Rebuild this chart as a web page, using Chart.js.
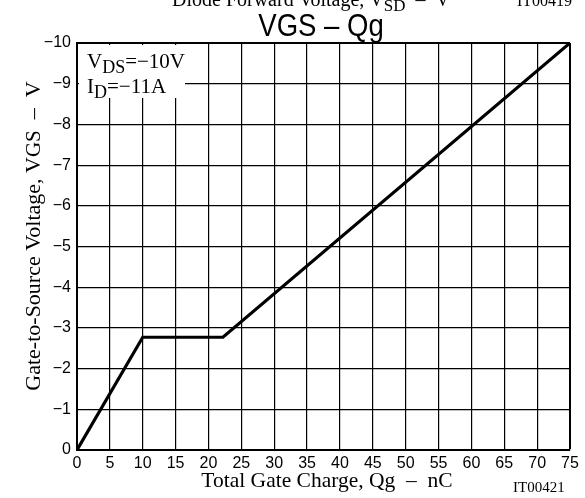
<!DOCTYPE html>
<html><head><meta charset="utf-8">
<script src="https://cdn.jsdelivr.net/npm/chart.js@4"></script>
<style>html,body{margin:0;padding:0;background:#fff}#wrap{width:585px;height:498px}</style>
</head><body><div id="wrap"><canvas id="c" width="585" height="498"></canvas></div>
<script>
// Data
const chargeNC = [0, 10, 22.2, 75];          // Total gate charge, nC
const vgsV     = [0, -2.77, -2.77, -10];     // Gate-to-source voltage, V
const xTicks = [0, 5, 10, 15, 20, 25, 30, 35, 40, 45, 50, 55, 60, 65, 70, 75];
const yTicks = [0, -1, -2, -3, -4, -5, -6, -7, -8, -9, -10];

const SERIF = '"Liberation Serif","Times New Roman",serif';
const SANS = '"Liberation Sans",Arial,sans-serif';
const fmtY = v => v === 0 ? '0' : '\u2212' + Math.abs(v);
const fmtX = v => String(v);

function drawSub(ctx, parts, x, y, align) {
  // parts: [text, size, dy]
  let total = 0;
  parts.forEach(p => { ctx.font = p[1] + 'px ' + SERIF; total += ctx.measureText(p[0]).width; });
  let cx = align === 'center' ? x - total / 2 : x;
  ctx.textAlign = 'left';
  ctx.textBaseline = 'alphabetic';
  parts.forEach(p => {
    ctx.font = p[1] + 'px ' + SERIF;
    ctx.fillText(p[0], cx, y + p[2]);
    cx += ctx.measureText(p[0]).width;
  });
}

const textPlugin = {
  id: 'texts',
  beforeDatasetsDraw(chart) {
    const ctx = chart.ctx;
    ctx.save();
    ctx.fillStyle = '#fff';
    ctx.fillRect(79, 45, 106, 53);
    ctx.fillStyle = '#000';
    drawSub(ctx, [['V', 21, 0], ['DS', 18, 5], ['=\u221210V', 21, 0]], 87, 68, 'left');
    drawSub(ctx, [['I', 21, 0], ['D', 18, 5], ['=\u221211A', 21, 0]], 87, 93, 'left');
    ctx.restore();
  },
  afterDraw(chart) {
    const ctx = chart.ctx;
    ctx.save();
    ctx.fillStyle = '#000';
    // cut-off caption of the chart above
    drawSub(ctx, [['Diode Forward Voltage, V', 20, 0], ['SD', 17, 5], ['  \u2013  V', 20, 0]], 172, 6, 'left');
    ctx.font = '16px ' + SERIF;
    ctx.textAlign = 'left';
    ctx.fillText('IT00419', 517, 6);
    // title
    ctx.save();
    ctx.font = '32px ' + SANS;
    ctx.textAlign = 'center';
    ctx.textBaseline = 'alphabetic';
    ctx.translate(321, 36);
    ctx.scale(0.86, 1);
    ctx.fillText('VGS \u2013 Qg', 0, 0);
    ctx.restore();
    // y title
    ctx.save();
    ctx.translate(40, 236);
    ctx.rotate(-Math.PI / 2);
    drawSub(ctx, [['Gate-to-Source Voltage, V', 22, 0], ['GS', 21, 0], ['  \u2013  V', 22, 0]], 0, 0, 'center');
    ctx.restore();
    // x title
    drawSub(ctx, [['Total Gate Charge, Qg  \u2013  nC', 21.5, 0]], 327, 487, 'center');
    ctx.font = '15px ' + SERIF;
    ctx.textAlign = 'left';
    ctx.fillText('IT00421', 513, 492);
    ctx.restore();
  }
};

new Chart(document.getElementById('c'), {
  type: 'scatter',
  data: {
    datasets: [{
      data: chargeNC.map((x, i) => ({ x, y: vgsV[i] })),
      showLine: true,
      borderColor: '#000',
      borderWidth: 3.2,
      pointRadius: 0,
      fill: false,
      tension: 0
    }]
  },
  options: {
    responsive: false,
    animation: false,
    devicePixelRatio: 1,
    layout: { padding: { top: 43, right: 15, left: 0, bottom: 0 } },
    plugins: { legend: { display: false }, tooltip: { enabled: false } },
    scales: {
      x: {
        type: 'linear', min: 0, max: 75,
        afterBuildTicks: s => { s.ticks = xTicks.map(v => ({ value: v })); },
        afterFit: s => { s.height = 48; },
        ticks: { callback: fmtX, color: '#000', font: { family: SANS, size: 16 }, padding: 4, maxRotation: 0, autoSkip: false },
        grid: { color: '#000', lineWidth: c => (c.tick && c.tick.value === 75) ? 2 : 1.2, drawTicks: false, tickLength: 0 },
        border: { display: true, color: '#000', width: 2 }
      },
      y: {
        type: 'linear', min: -10, max: 0, reverse: true,
        afterBuildTicks: s => { s.ticks = yTicks.map(v => ({ value: v })); },
        afterFit: s => { s.width = 77; },
        ticks: { callback: fmtY, color: '#000', font: { family: SANS, size: 16 }, padding: 6, autoSkip: false },
        grid: { color: '#000', lineWidth: c => (c.tick && c.tick.value === -10) ? 2 : 1.2, drawTicks: false, tickLength: 0 },
        border: { display: true, color: '#000', width: 2 }
      }
    }
  },
  plugins: [textPlugin]
});
</script>
</body></html>
